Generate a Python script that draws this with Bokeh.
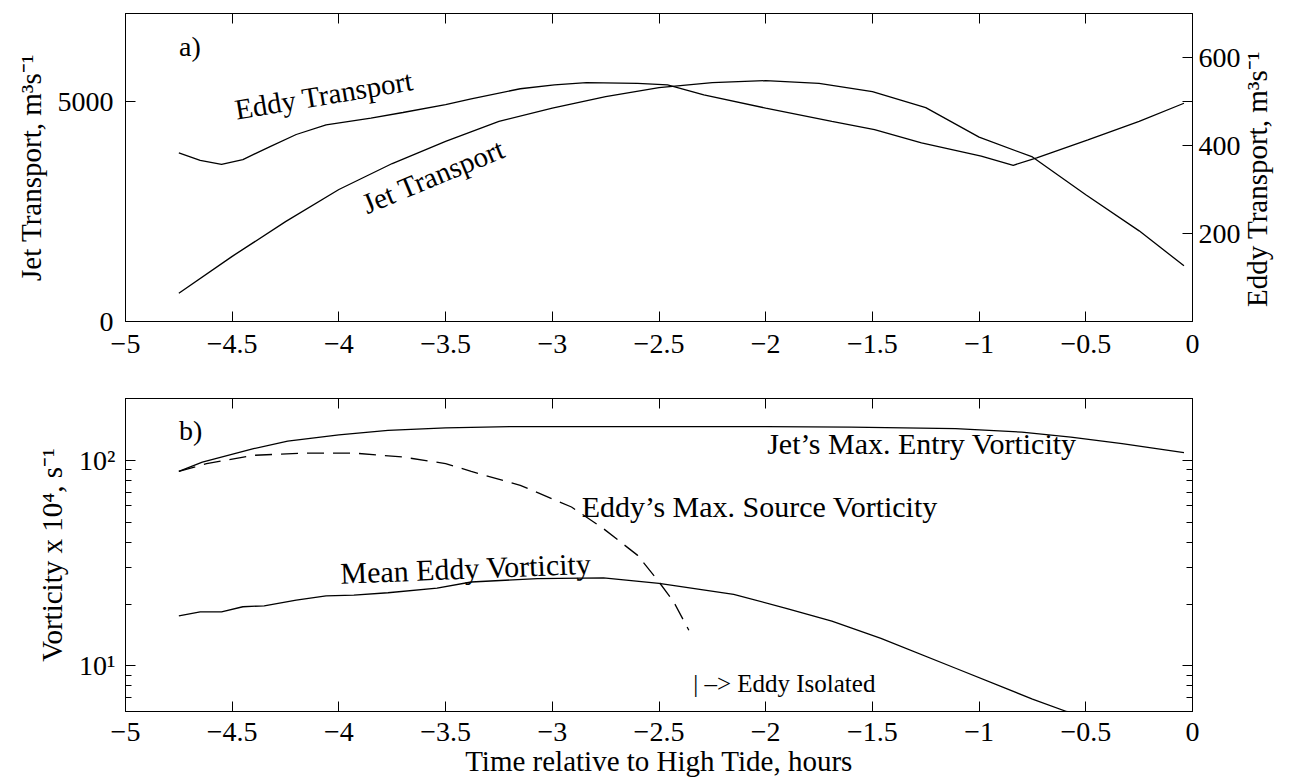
import math
from bokeh.plotting import figure
from bokeh.models import Range1d, LinearAxis, LogAxis, FixedTicker, Label, LogScale
from bokeh.layouts import column
from bokeh.embed import file_html
from bokeh.resources import INLINE

FONT = "Liberation Serif"

# ---------------- data ----------------
# a) transports
jet_t = [-4.75, -4.5, -4.25, -4.0, -3.75, -3.5, -3.25, -3.0, -2.75, -2.5, -2.25,
         -2.0, -1.75, -1.5, -1.25, -1.0, -0.75, -0.5, -0.25, -0.04]
jet_q = [640, 1480, 2270, 3000, 3590, 4094, 4550, 4848, 5110, 5316, 5430,
         5474, 5410, 5225, 4860, 4190, 3740, 2880, 2060, 1267]

eddy_t = [-4.75, -4.65, -4.55, -4.45, -4.32, -4.2, -4.06, -3.85, -3.7, -3.5,
          -3.38, -3.15, -2.99, -2.84, -2.6, -2.46, -2.29, -2.0, -1.69, -1.49,
          -1.27, -0.99, -0.84, -0.73, -0.49, -0.25, -0.04]
eddy_q = [383, 366, 357, 368, 398, 425, 447, 462, 475, 493,
          506, 529, 538, 543, 541, 538, 515, 485, 455, 436,
          406, 376, 355, 372, 413, 455, 496]

# b) vorticities (x 10^4, s^-1)
jetvort_t = [-4.75, -4.64, -4.4, -4.24, -4.0, -3.77, -3.5, -3.2, -3.0, -2.5, -2.0,
             -1.6, -1.11, -0.8, -0.57, -0.33, -0.04]
jetvort_v = [88.4, 98, 114, 124, 133, 140, 144, 146, 146, 146, 146,
             145, 142.6, 137.3, 129.8, 120.5, 109]

src_t = [-4.75, -4.62, -4.4, -4.17, -3.93, -3.7, -3.5, -3.38, -3.15, -2.91,
         -2.76, -2.6, -2.5, -2.43, -2.36]
src_v = [88.4, 96.4, 105.8, 108.5, 108.5, 103.8, 96.4, 88.4, 75.6, 59.3,
         46.5, 34.5, 25.6, 20.4, 14.9]

mean_t = [-4.75, -4.65, -4.55, -4.45, -4.35, -4.2, -4.06, -3.93, -3.77, -3.54,
          -3.38, -3.07, -2.76, -2.5, -2.15, -1.9, -1.69, -1.46, -1.11, -0.75,
          -0.59, -0.45]
mean_v = [17.5, 18.3, 18.3, 19.4, 19.6, 20.9, 21.9, 22.1, 22.7, 23.9,
          25.6, 26.6, 26.8, 25.2, 22.3, 19.0, 16.5, 13.6, 9.74, 6.9,
          6.0, 5.5]

x_ticks = [-5, -4.5, -4, -3.5, -3, -2.5, -2, -1.5, -1, -0.5, 0]
x_tick_labels = ["\u22125", "\u22124.5", "\u22124", "\u22123.5", "\u22123", "\u22122.5",
                 "\u22122", "\u22121.5", "\u22121", "\u22120.5", "0"]
jet_ticks = [0, 5000]
eddy_ticks = [200, 400, 500, 600]
eddy_tick_labels = ["200", "400", " ", "600"]
vort_ticks = [10, 100]
vort_minor = [6, 7, 8, 9, 20, 30, 40, 50, 60, 70, 80, 90, 200]
vort_tick_labels = ["10\u00b9", "10\u00b2"]


def style(ax, labels=True, standoff=8):
    ax.axis_line_color = "black"
    ax.axis_line_width = 1
    ax.major_tick_line_color = "black"
    ax.major_tick_in = 10
    ax.major_tick_out = 0
    ax.minor_tick_line_color = "black"
    ax.minor_tick_in = 6
    ax.minor_tick_out = 0
    ax.major_label_text_font = FONT
    ax.major_label_text_color = "black"
    ax.axis_label_text_font = FONT
    ax.axis_label_text_font_style = "normal"
    ax.axis_label_text_font_size = "29px"
    ax.axis_label_text_color = "black"
    ax.major_label_text_font_size = "28px"
    ax.major_label_standoff = standoff
    if not labels:
        ax.major_label_text_font_size = "10px"
        ax.major_label_text_color = None
        ax.major_label_standoff = 0


def base_fig(height, top, bottom, tick_standoff):
    p = figure(width=1291, height=height, x_range=Range1d(-5, 0),
               x_axis_type=None, y_axis_type=None,
               output_backend="svg", toolbar_location=None,
               min_border_left=125, min_border_right=99,
               min_border_top=top, min_border_bottom=bottom)
    p.outline_line_color = "black"
    p.outline_line_width = 1
    p.background_fill_color = "white"
    p.border_fill_color = "white"
    xb = LinearAxis(ticker=FixedTicker(ticks=x_ticks),
                    major_label_overrides={float(v): s for v, s in zip(x_ticks, x_tick_labels)})
    style(xb, True, tick_standoff)
    xb.minor_tick_line_color = None
    p.add_layout(xb, "below")
    xa = LinearAxis(ticker=FixedTicker(ticks=x_ticks))
    style(xa, False)
    xa.minor_tick_line_color = None
    p.add_layout(xa, "above")
    return p


def label(p, x, y, text, size="30px", angle=0.0, align="left", baseline="alphabetic"):
    p.add_layout(Label(x=x, y=y, text=text, text_font=FONT, text_font_size=size,
                       text_color="black", angle=angle, text_align=align,
                       text_baseline=baseline))


# ---------------- panel a ----------------
p1 = base_fig(360, 13, 39, 13)
p1.y_range = Range1d(0, 7000)
p1.extra_y_ranges = {"eddy": Range1d(0, 700)}

yl = LinearAxis(ticker=FixedTicker(ticks=jet_ticks), axis_label="Jet Transport, m\u00b3s\u207b\u00b9")
style(yl, True, 12)
yl.axis_label_standoff = 8
p1.add_layout(yl, "left")

yr = LinearAxis(y_range_name="eddy", ticker=FixedTicker(ticks=eddy_ticks),
                axis_label="\u00a0\u00a0Eddy Transport, m\u00b3s\u207b\u00b9",
                major_label_overrides={float(v): s for v, s in zip(eddy_ticks, eddy_tick_labels)})
style(yr, True, 6)
yr.axis_label_standoff = 13
try:
    yr.axis_label_orientation = math.pi / 2
    yr.axis_label_align = "start"
except Exception:
    pass
p1.add_layout(yr, "right")

p1.line(jet_t, jet_q, line_color="black", line_width=1.3)
p1.line(eddy_t, eddy_q, line_color="black", line_width=1.3, y_range_name="eddy")

label(p1, -4.749, 6243, "a)", size="28px")
label(p1, -4.486, 4811, "Eddy Transport", size="29px", angle=math.radians(9.5))
label(p1, -3.885, 2647, "Jet Transport", size="29px", angle=math.radians(22.5))

# ---------------- panel b ----------------
p2 = base_fig(421, 38, 70, 11)
p2.y_range = Range1d(6, 200)
p2.y_scale = LogScale()
p2.below[0].axis_label = "Time relative to High Tide, hours"
p2.below[0].axis_label_standoff = 1

vt = FixedTicker(ticks=vort_ticks, minor_ticks=vort_minor)
ylb = LogAxis(ticker=vt, axis_label="Vorticity x 10\u2074, s\u207b\u00b9",
              major_label_overrides={float(v): s for v, s in zip(vort_ticks, vort_tick_labels)})
style(ylb, True, 10)
ylb.axis_label_standoff = 8
p2.add_layout(ylb, "left")
yrb = LogAxis(ticker=FixedTicker(ticks=vort_ticks, minor_ticks=vort_minor))
style(yrb, False)
p2.add_layout(yrb, "right")

p2.line(jetvort_t, jetvort_v, line_color="black", line_width=1.3)
p2.line(src_t, src_v, line_color="black", line_width=1.3, line_dash="17 9")
p2.line(mean_t, mean_v, line_color="black", line_width=1.3)

label(p2, -4.749, 139.8, "b)", size="28px")
label(p2, -1.993, 120.7, "Jet\u2019s Max. Entry Vorticity")
label(p2, -2.862, 59.9, "Eddy\u2019s Max. Source Vorticity")
label(p2, -3.993, 28.2, "Mean Eddy Vorticity", angle=math.radians(2.3))
label(p2, -2.34, 8.24, "| \u2013> Eddy Isolated", size="25px")

layout = column(p1, p2, spacing=0)
open("out.html", "w").write(file_html(layout, INLINE))
